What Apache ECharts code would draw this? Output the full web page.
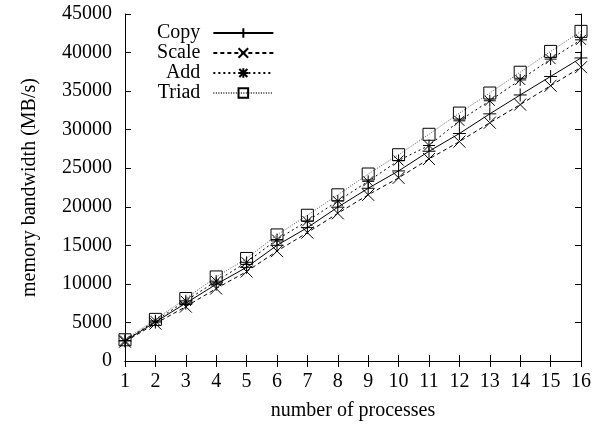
<!DOCTYPE html>
<html>
<head>
<meta charset="utf-8">
<script src="https://cdn.jsdelivr.net/npm/echarts@6/dist/echarts.min.js"></script>
<style>
  html, body { margin: 0; padding: 0; background: #fff; }
  #chart { width: 596px; height: 426px; }
</style>
</head>
<body>
<div id="chart"></div>
<script>
// STREAM memory bandwidth vs number of processes
const processes = [1, 2, 3, 4, 5, 6, 7, 8, 9, 10, 11, 12, 13, 14, 15, 16];
const copyBW  = [2600, 5050, 7500, 9950, 12150, 15000, 17300, 19950, 22400, 24650, 27200, 29500, 32050, 34500, 36900, 39300];
const scaleBW = [2500, 4850, 7050, 9400, 11600, 14250, 16650, 19150, 21550, 23750, 26200, 28450, 30900, 33250, 35700, 38100];
const addBW   = [2650, 5200, 7800, 10350, 12800, 15750, 18150, 20750, 23300, 26000, 27950, 31150, 33750, 36450, 39150, 41650];
const triadBW = [2750, 5400, 8100, 10900, 13300, 16350, 18900, 21550, 24250, 26750, 29400, 32150, 34750, 37450, 40150, 42750];

const FONT = 'Liberation Serif';
const plusPath  = 'path://M5,0L5,10M0,5L10,5';
const crossPath = 'path://M0,0L10,10M10,0L0,10';
const starPath  = 'path://M5,0L5,10M0,5L10,5M0.8,0.8L9.2,9.2M9.2,0.8L0.8,9.2';
const boxPath   = 'path://M0,0L10,0L10,10L0,10Z';

function pairs(ys) { return processes.map((x, i) => [x, ys[i]]); }

function makeSeries(name, ys, symbol, size, lineType, lineColor) {
  return {
    name: name,
    type: 'line',
    data: pairs(ys),
    symbol: symbol,
    symbolSize: size,
    showAllSymbol: true,
    animation: false,
    lineStyle: { color: lineColor, width: 1, type: lineType },
    itemStyle: { color: 'transparent', borderColor: '#000', borderWidth: 1 },
    emphasis: { disabled: true }
  };
}

const chart = echarts.init(document.getElementById('chart'), null, { renderer: 'canvas' });

const axisText = { color: '#000', fontFamily: FONT, fontSize: 20 };

chart.setOption({
  backgroundColor: '#fff',
  animation: false,
  grid: { left: 125, right: 15, top: 14, bottom: 64 },
  legend: {
    orient: 'vertical',
    left: 152,
    top: 18,
    align: 'right',
    itemGap: 0,
    itemWidth: 60,
    itemHeight: 12,
    data: ['Copy', 'Scale', 'Add', 'Triad'],
    textStyle: { color: '#000', fontFamily: FONT, fontSize: 20, align: 'right', padding: [0, 8, 0, 0] }
  },
  xAxis: [
    {
      type: 'value', min: 1, max: 16, interval: 1,
      name: 'number of processes', nameLocation: 'middle', nameGap: 40,
      nameTextStyle: axisText,
      axisLine: { lineStyle: { color: '#000', width: 1 } },
      axisTick: { inside: true, length: 6, lineStyle: { color: '#000' } },
      axisLabel: Object.assign({ margin: 11 }, axisText),
      splitLine: { show: false }
    },
    {
      type: 'value', min: 1, max: 16, interval: 1, position: 'top',
      axisLine: { lineStyle: { color: '#000', width: 1 } },
      axisTick: { inside: true, length: 6, lineStyle: { color: '#000' } },
      axisLabel: { show: false },
      splitLine: { show: false }
    }
  ],
  yAxis: [
    {
      type: 'value', min: 0, max: 45000, interval: 5000,
      name: 'memory bandwidth (MB/s)', nameLocation: 'middle', nameGap: 85,
      nameTextStyle: axisText,
      axisLine: { show: true, lineStyle: { color: '#000', width: 1 } },
      axisTick: { show: true, inside: true, length: 6, lineStyle: { color: '#000' } },
      axisLabel: Object.assign({ margin: 13, formatter: v => String(v) }, axisText),
      splitLine: { show: false }
    },
    {
      type: 'value', min: 0, max: 45000, interval: 5000, position: 'right',
      axisLine: { show: true, lineStyle: { color: '#000', width: 1 } },
      axisTick: { show: true, inside: true, length: 6, lineStyle: { color: '#000' } },
      axisLabel: { show: false },
      splitLine: { show: false }
    }
  ],
  series: [
    makeSeries('Copy', copyBW, plusPath, 13, 'solid', '#000'),
    makeSeries('Scale', scaleBW, crossPath, 12, [4, 3], '#000'),
    makeSeries('Add', addBW, starPath, 12, [2, 3], '#000'),
    makeSeries('Triad', triadBW, boxPath, 12, [1, 1.5], '#555')
  ]
});
</script>
</body>
</html>
